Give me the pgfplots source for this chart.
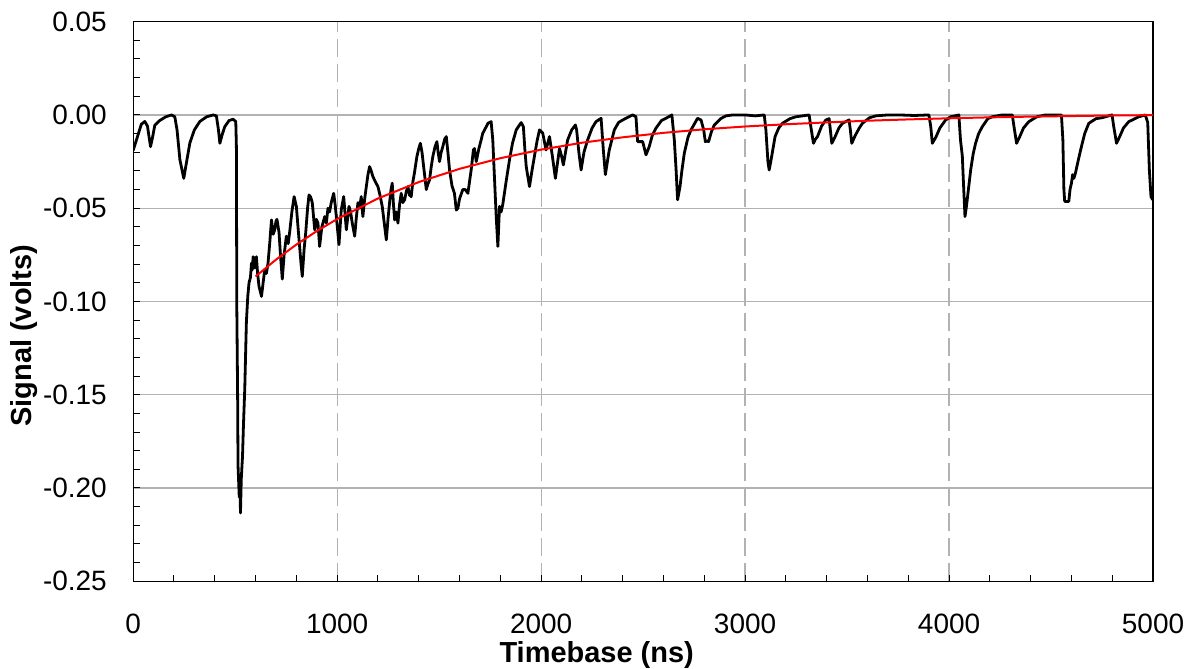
\documentclass[border=0pt]{standalone}
\usepackage{fontspec}
\setmainfont{Liberation Sans}
\usepackage{pgfplots}
\pgfplotsset{compat=1.18}
\begin{document}
\begin{tikzpicture}
\begin{axis}[
  at={(0,0)}, anchor=south west,
  scale only axis, width=510.35pt, height=280pt,
  xmin=0, xmax=5000, ymin=-0.25, ymax=0.05,
  xtick={0,1000,2000,3000,4000,5000},
  ytick={-0.25,-0.20,-0.15,-0.10,-0.05,0,0.05},
  minor x tick num=4, minor y tick num=4,
  tick align=inside, xtick pos=left, ytick pos=left,
  major tick length=3.3pt, minor tick length=3.3pt,
  every tick/.style={black, line width=0.5pt},
  xmajorgrids, ymajorgrids,
  x grid style={gray!60, dash pattern=on 9pt off 3.5pt, line width=0.6pt},
  y grid style={gray!60, line width=0.6pt},
  axis line style={line width=0.6pt},
  scaled x ticks=false, scaled y ticks=false,
  /pgf/number format/assume math mode=true,
  /pgf/number format/1000 sep={},
  xticklabel style={font=\fontsize{14}{16}\selectfont, anchor=base, inner sep=0pt, yshift=-26.3pt},
  yticklabel style={font=\fontsize{14}{16}\selectfont, anchor=east, inner sep=0pt, xshift=-13pt,
     /pgf/number format/.cd, fixed, fixed zerofill, precision=2},
  xlabel={Timebase (ns)},
  ylabel={Signal (volts)},
  xlabel style={font=\fontsize{14.5}{17}\selectfont\bfseries, at={(axis description cs:0.4545,-0.1452)}, anchor=base},
  ylabel style={font=\fontsize{14.5}{17}\selectfont\bfseries, at={(axis description cs:-0.0995,0.4388)}, anchor=base},
]
\addplot[black, line width=1.4pt, line join=round] coordinates {
(0,-0.019) (20,-0.012) (40,-0.005) (57,-0.0035) (70,-0.006) (85,-0.017) (95,-0.012) (106,-0.0055)
(130,-0.003) (160,-0.001) (188,0.0) (204,-0.001) (215,-0.008) (229,-0.024) (248,-0.034) (262,-0.025)
(278,-0.015) (300,-0.008) (327,-0.0035) (360,-0.001) (392,0.000) (408,-0.0005) (418,-0.008) (425,-0.0152)
(435,-0.011) (449,-0.0063) (470,-0.003) (490,-0.0023) (503,-0.0036) (506,-0.017) (507,-0.060) (508,-0.1027)
(512,-0.150) (514,-0.188) (520,-0.205) (524,-0.200) (526,-0.2134) (530,-0.195) (536,-0.183) (541,-0.165)
(547,-0.147) (555,-0.111) (562,-0.097) (568,-0.090) (575,-0.087) (580,-0.0795) (584,-0.083) (588,-0.076)
(596,-0.082) (604,-0.076) (610,-0.085) (617,-0.092) (629,-0.0973) (637,-0.090) (645,-0.083) (653,-0.085)
(661,-0.0795) (670,-0.068) (678,-0.0563) (686,-0.064) (694,-0.0616) (700,-0.057) (705,-0.056) (715,-0.063)
(722,-0.075) (731,-0.088) (740,-0.075) (751,-0.065) (760,-0.069) (767,-0.063) (778,-0.052) (789,-0.0438)
(800,-0.049) (808,-0.060) (816,-0.0705) (823,-0.080) (829,-0.0866) (838,-0.072) (846,-0.063) (855,-0.050)
(862,-0.0429) (870,-0.044) (878,-0.047) (890,-0.0616) (898,-0.056) (906,-0.058) (914,-0.0705) (925,-0.060)
(939,-0.0545) (947,-0.058) (955,-0.050) (963,-0.052) (971,-0.047) (983,-0.042) (990,-0.048) (996,-0.0545)
(1009,-0.0696) (1020,-0.051) (1032,-0.0438) (1038,-0.052) (1045,-0.0616) (1052,-0.055) (1058,-0.049) (1066,-0.052)
(1074,-0.058) (1086,-0.065) (1094,-0.055) (1102,-0.047) (1110,-0.050) (1118,-0.0438) (1126,-0.0545) (1135,-0.045)
(1143,-0.0384) (1151,-0.032) (1159,-0.0277) (1167,-0.030) (1175,-0.033) (1188,-0.036) (1200,-0.0384) (1210,-0.043)
(1221,-0.049) (1231,-0.058) (1241,-0.067) (1250,-0.055) (1257,-0.047) (1264,-0.040) (1270,-0.0366) (1276,-0.048)
(1282,-0.0563) (1290,-0.052) (1298,-0.058) (1306,-0.048) (1314,-0.042) (1322,-0.047) (1331,-0.0455) (1339,-0.041)
(1347,-0.0384) (1355,-0.043) (1363,-0.0438) (1371,-0.036) (1379,-0.031) (1391,-0.0223) (1400,-0.018) (1408,-0.0152)
(1416,-0.020) (1424,-0.0277) (1437,-0.040) (1445,-0.037) (1453,-0.0348) (1461,-0.028) (1469,-0.0223) (1480,-0.017)
(1489,-0.0143) (1495,-0.020) (1502,-0.025) (1510,-0.020) (1518,-0.017) (1527,-0.013) (1535,-0.0116) (1543,-0.020)
(1551,-0.0295) (1563,-0.038) (1575,-0.042) (1584,-0.051) (1592,-0.050) (1600,-0.045) (1616,-0.040) (1628,-0.040)
(1641,-0.042) (1657,-0.0295) (1668,-0.0188) (1673,-0.018) (1682,-0.025) (1695,-0.018) (1706,-0.0134) (1714,-0.0098)
(1731,-0.0063) (1739,-0.0045) (1755,-0.0036) (1763,-0.0134) (1771,-0.033) (1780,-0.055) (1788,-0.0705) (1796,-0.049)
(1804,-0.052) (1812,-0.048) (1828,-0.036) (1845,-0.024) (1860,-0.015) (1878,-0.008) (1902,-0.0041) (1913,-0.0063)
(1920,-0.018) (1927,-0.0277) (1943,-0.0384) (1955,-0.030) (1967,-0.0223) (1980,-0.014) (1992,-0.008) (2008,-0.0098)
(2024,-0.0188) (2041,-0.0116) (2055,-0.022) (2070,-0.034) (2090,-0.0179) (2100,-0.022) (2109,-0.0268) (2130,-0.0134)
(2150,-0.008) (2168,-0.0054) (2174,-0.008) (2185,-0.020) (2196,-0.0295) (2210,-0.020) (2228,-0.0134) (2250,-0.007)
(2269,-0.0036) (2294,-0.0018) (2305,-0.0188) (2315,-0.032) (2325,-0.025) (2334,-0.0188) (2359,-0.008) (2380,-0.004)
(2400,-0.0027) (2430,-0.001) (2449,0.000) (2465,-0.001) (2473,-0.0143) (2490,-0.0143) (2498,-0.0143) (2514,-0.0214)
(2530,-0.017) (2545,-0.011) (2563,-0.0071) (2590,-0.003) (2612,-0.0018) (2641,0.000) (2653,-0.0134) (2662,-0.030)
(2669,-0.0455) (2681,-0.0384) (2690,-0.030) (2702,-0.0205) (2720,-0.012) (2735,-0.008) (2767,-0.0018) (2784,-0.0027)
(2797,-0.008) (2805,-0.0143) (2815,-0.014) (2821,-0.0143) (2835,-0.009) (2849,-0.0054) (2880,-0.002) (2906,-0.0005)
(2940,0.000) (3000,0.000) (3050,-0.0005) (3094,0.000) (3102,-0.008) (3112,-0.025) (3118,-0.0295) (3126,-0.025)
(3147,-0.0116) (3165,-0.007) (3183,-0.0045) (3220,-0.002) (3249,-0.001) (3314,0.000) (3322,-0.006) (3335,-0.0152)
(3345,-0.013) (3355,-0.0116) (3375,-0.006) (3396,-0.0027) (3412,-0.002) (3418,-0.008) (3425,-0.0152) (3440,-0.012)
(3460,-0.007) (3477,-0.0045) (3510,-0.0027) (3516,-0.008) (3523,-0.0152) (3540,-0.011) (3560,-0.007) (3575,-0.0045)
(3610,-0.0015) (3641,-0.0005) (3700,0.000) (3755,0.000) (3830,-0.0003) (3901,0.000) (3910,-0.006) (3918,-0.0152)
(3935,-0.012) (3955,-0.007) (3983,-0.0027) (4008,-0.001) (4048,0.000) (4056,-0.0134) (4065,-0.022) (4070,-0.035)
(4078,-0.0545) (4084,-0.050) (4089,-0.0455) (4106,-0.0295) (4118,-0.021) (4130,-0.0152) (4145,-0.010) (4163,-0.0063)
(4190,-0.002) (4212,-0.001) (4260,0.000) (4310,0.000) (4318,-0.006) (4331,-0.0152) (4345,-0.012) (4365,-0.007)
(4391,-0.0036) (4430,-0.001) (4473,0.000) (4551,0.000) (4558,-0.0134) (4563,-0.040) (4567,-0.0464) (4578,-0.0464)
(4587,-0.0464) (4593,-0.040) (4600,-0.0366) (4606,-0.032) (4612,-0.034) (4620,-0.031) (4632,-0.025) (4645,-0.0188)
(4665,-0.010) (4685,-0.0045) (4720,-0.002) (4750,-0.0015) (4799,0.000) (4807,-0.006) (4821,-0.0152) (4835,-0.012)
(4855,-0.007) (4881,-0.0036) (4930,-0.001) (4962,0.000) (4974,-0.004) (4982,-0.0295) (4990,-0.0438) (4998,-0.0455)
};
\addplot[red, line width=1pt] coordinates {
(600,-0.0866) (700,-0.0776) (800,-0.0695) (900,-0.0623) (1000,-0.0558) (1200,-0.0448) (1400,-0.0360)
(1600,-0.0289) (1800,-0.0232) (2000,-0.0186) (2200,-0.0149) (2400,-0.0120) (2600,-0.0096) (2800,-0.0077)
(3000,-0.0062) (3200,-0.0050) (3400,-0.0040) (3600,-0.0031) (3800,-0.0024) (4000,-0.0018) (4200,-0.0013)
(4400,-0.0009) (4600,-0.0006) (4800,-0.0003) (5000,-0.0001)
};
\end{axis}
\pgfresetboundingbox
\path[use as bounding box] (-66.65pt,-43.65pt) rectangle (530.35pt,290.85pt);
\end{tikzpicture}
\end{document}
